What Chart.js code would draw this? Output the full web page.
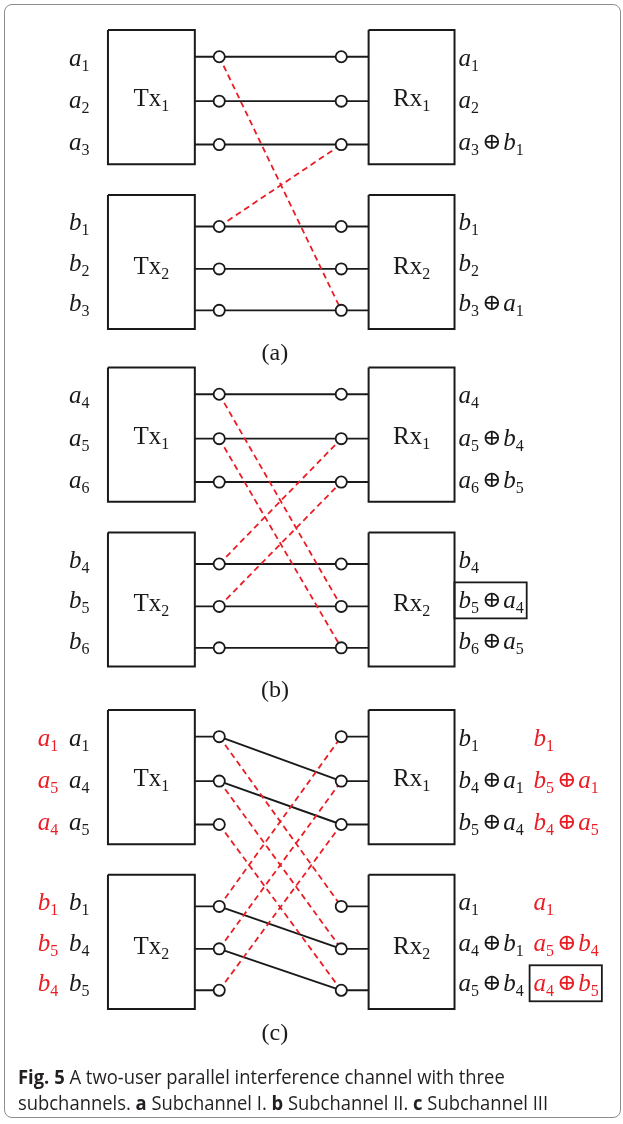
<!DOCTYPE html>
<html>
<head>
<meta charset="utf-8">
<script src="https://cdn.jsdelivr.net/npm/chart.js@4"></script>
<style>
  body { margin: 0; background: #fff; }
  #wrap { position: relative; width: 623px; height: 1124px; overflow: hidden; }
  #frame { position: absolute; left: 4px; top: 4px; width: 615px; height: 1112px;
           border: 1.5px solid #8c8c8c; border-radius: 8px; }
  #diagram { position: absolute; left: 0; top: 0; }
  #caption { position: absolute; left: 18px; top: 1064px; font: 20px "Open Sans", sans-serif;
             line-height: 26px; color: #231f20; white-space: nowrap;
             transform: scaleX(0.92); transform-origin: left top; }
</style>
</head>
<body>
<div id="wrap">
  <div id="frame"></div>
  <canvas id="diagram" width="623" height="1124"></canvas>
  <div id="caption"><b>Fig. 5</b> A two-user parallel interference channel with three<br>subchannels. <b>a</b> Subchannel I. <b>b</b> Subchannel II. <b>c</b> Subchannel III</div>
</div>
<script>
// Subchannel data
const panelNames = ['(a)', '(b)', '(c)'];
const txNames = ['Tx1', 'Tx2'];
const rxNames = ['Rx1', 'Rx2'];

const txInputs = [
    [['a1', 'a2', 'a3'], ['b1', 'b2', 'b3']],
    [['a4', 'a5', 'a6'], ['b4', 'b5', 'b6']],
    [['a1', 'a4', 'a5'], ['b1', 'b4', 'b5']]
];
const rxOutputs = [
    [['a1', 'a2', 'a3⊕b1'], ['b1', 'b2', 'b3⊕a1']],
    [['a4', 'a5⊕b4', 'a6⊕b5'], ['b4', 'b5⊕a4', 'b6⊕a5']],
    [['b1', 'b4⊕a1', 'b5⊕a4'], ['a1', 'a4⊕b1', 'a5⊕b4']]
];
// red alternative ordering (subchannel III only)
const txInputsAlt = [null, null, [['a1', 'a5', 'a4'], ['b1', 'b5', 'b4']]];
const rxOutputsAlt = [null, null, [['b1', 'b5⊕a1', 'b4⊕a5'], ['a1', 'a5⊕b4', 'a4⊕b5']]];

// direct links: [user, txRow, rxRow]
const directLinks = [
    [[0, 0, 0], [0, 1, 1], [0, 2, 2], [1, 0, 0], [1, 1, 1], [1, 2, 2]],
    [[0, 0, 0], [0, 1, 1], [0, 2, 2], [1, 0, 0], [1, 1, 1], [1, 2, 2]],
    [[0, 0, 1], [0, 1, 2], [1, 0, 1], [1, 1, 2]]
];
// interference links: [fromUser, txRow, rxRow of the other receiver]
const crossLinks = [
    [[0, 0, 2], [1, 0, 2]],
    [[0, 0, 1], [0, 1, 2], [1, 0, 1], [1, 1, 2]],
    [[0, 0, 0], [0, 1, 1], [0, 2, 2], [1, 0, 0], [1, 1, 1], [1, 2, 2]]
];
// framed outputs: [panel, user, row, alt]
const boxedOutputs = [[1, 1, 1, false], [2, 1, 2, true]];

// layout
const TX_X = [103, 192], RX_X = [370, 458], CIRC_X = [217, 342];
const PANEL_TOP = [23, 365, 712], USER_GAP = 167, BOX_H = 136;
const ROW_OFF = [[27, 72, 116], [32, 75, 117]];
const LABEL_OFF = [[36, 79, 122], [36, 77, 118]];
const RED = '#ea1d25', INK = '#1a1a1a';
const SERIF = '"Liberation Serif", "Times New Roman", serif';

const rowY = (p, u, r) => PANEL_TOP[p] + u * USER_GAP + ROW_OFF[u][r];
const labelY = (p, u, r) => PANEL_TOP[p] + u * USER_GAP + LABEL_OFF[u][r];
const isBoxed = (p, u, r, alt) => boxedOutputs.some(b => b[0] === p && b[1] === u && b[2] === r && b[3] === alt);

const datasets = [];
const circles = [];

function segment(pts, color, width, dash, order) {
    datasets.push({
        data: pts, showLine: true, pointRadius: 0, borderColor: color,
        borderWidth: width, borderDash: dash || [], fill: false, order: order
    });
}

panelNames.forEach((name, p) => {
    [0, 1].forEach(u => {
        const top = PANEL_TOP[p] + u * USER_GAP;
        [TX_X, RX_X].forEach(bx => {
            segment([{x: bx[0], y: top}, {x: bx[1], y: top}, {x: bx[1], y: top + BOX_H},
                     {x: bx[0], y: top + BOX_H}, {x: bx[0], y: top}], INK, 2, null, 3);
        });
        [0, 1, 2].forEach(r => {
            const y = rowY(p, u, r);
            segment([{x: TX_X[1], y: y}, {x: CIRC_X[0], y: y}], INK, 1.9, null, 2);
            segment([{x: CIRC_X[1], y: y}, {x: RX_X[0], y: y}], INK, 1.9, null, 2);
            circles.push({x: CIRC_X[0], y: y}, {x: CIRC_X[1], y: y});
        });
    });
    directLinks[p].forEach(([u, tr, rr]) => {
        segment([{x: CIRC_X[0], y: rowY(p, u, tr)}, {x: CIRC_X[1], y: rowY(p, u, rr)}], INK, 1.9, null, 2);
    });
    crossLinks[p].forEach(([u, tr, rr]) => {
        segment([{x: CIRC_X[0], y: rowY(p, u, tr)}, {x: CIRC_X[1], y: rowY(p, 1 - u, rr)}], RED, 1.8, [6, 4], 1);
    });
});

datasets.push({
    data: circles, showLine: false, pointRadius: 5.6, pointBorderWidth: 1.8,
    pointBackgroundColor: '#fff', pointBorderColor: INK, order: 0
});

// rich text: letters, subscript digits and the xor sign
function tokens(text, italic) {
    return [...text].map(ch => {
        if (/\d/.test(ch)) return {t: ch, font: '16px ' + SERIF, dy: 5, pl: 0, pr: 0};
        if (ch === '⊕') return {t: ch, font: '23px "DejaVu Serif", serif', dy: -1, pl: 3, pr: 2};
        return {t: ch, font: (italic ? 'italic ' : '') + '25px ' + SERIF, dy: 0, pl: 0, pr: 0};
    });
}

function drawRich(ctx, text, x, y, opts) {
    const toks = tokens(text, opts.italic);
    let w = 0;
    toks.forEach(tk => { ctx.font = tk.font; tk.w = ctx.measureText(tk.t).width; w += tk.pl + tk.w + tk.pr; });
    let cx = opts.align === 'center' ? x - w / 2 : x;
    const x0 = cx;
    ctx.fillStyle = opts.color;
    ctx.textBaseline = 'alphabetic';
    ctx.textAlign = 'left';
    toks.forEach(tk => {
        ctx.font = tk.font;
        cx += tk.pl;
        ctx.fillText(tk.t, cx, y + tk.dy);
        cx += tk.w + tk.pr;
    });
    if (opts.framed) {
        ctx.strokeStyle = INK;
        ctx.lineWidth = 1.8;
        ctx.strokeRect(x0 - 4, y - 26, w + 7, 36);
    }
}

const labelPlugin = {
    id: 'labels',
    afterDatasetsDraw(chart) {
        const ctx = chart.ctx;
        const sx = v => chart.scales.x.getPixelForValue(v);
        const sy = v => chart.scales.y.getPixelForValue(v);
        ctx.save();
        panelNames.forEach((name, p) => {
            [0, 1].forEach(u => {
                const top = PANEL_TOP[p] + u * USER_GAP;
                drawRich(ctx, txNames[u], sx((TX_X[0] + TX_X[1]) / 2), sy(top + ROW_OFF[u][1] + 5), {italic: false, color: INK, align: 'center'});
                drawRich(ctx, rxNames[u], sx((RX_X[0] + RX_X[1]) / 2), sy(top + ROW_OFF[u][1] + 5), {italic: false, color: INK, align: 'center'});
                [0, 1, 2].forEach(r => {
                    const y = sy(labelY(p, u, r));
                    drawRich(ctx, txInputs[p][u][r], sx(63), y, {italic: true, color: INK});
                    drawRich(ctx, rxOutputs[p][u][r], sx(462), y, {italic: true, color: INK, framed: isBoxed(p, u, r, false)});
                    if (txInputsAlt[p]) drawRich(ctx, txInputsAlt[p][u][r], sx(31), y, {italic: true, color: RED});
                    if (rxOutputsAlt[p]) drawRich(ctx, rxOutputsAlt[p][u][r], sx(539), y, {italic: true, color: RED, framed: isBoxed(p, u, r, true)});
                });
            });
            ctx.font = '24px ' + SERIF;
            ctx.fillStyle = INK;
            ctx.textAlign = 'center';
            ctx.textBaseline = 'alphabetic';
            ctx.fillText(name, sx(274), sy(PANEL_TOP[p] + 334));
        });
        ctx.restore();
    }
};

new Chart(document.getElementById('diagram'), {
    type: 'scatter',
    data: { datasets: datasets },
    options: {
        responsive: false,
        animation: false,
        events: [],
        layout: { padding: 0 },
        plugins: { legend: { display: false }, tooltip: { enabled: false } },
        scales: {
            x: { type: 'linear', min: 0, max: 623, display: false },
            y: { type: 'linear', min: 0, max: 1124, reverse: true, display: false }
        }
    },
    plugins: [labelPlugin]
});
</script>
</body>
</html>
